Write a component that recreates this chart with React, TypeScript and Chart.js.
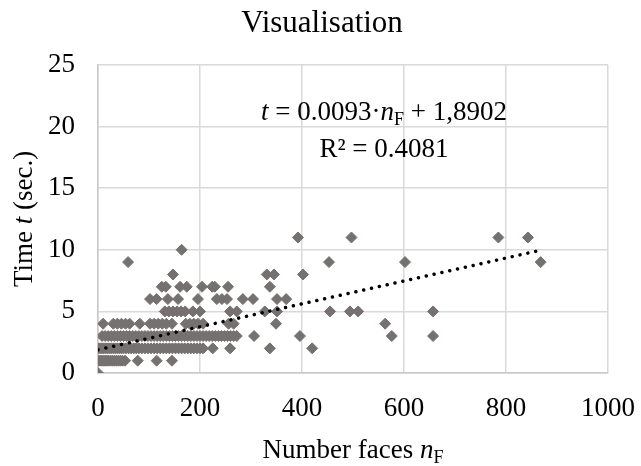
import React, { useEffect, useRef } from "react";
import { Chart, registerables } from "chart.js";

Chart.register(...registerables);

// ---- Data (number of faces n_F per measured time t in seconds) ----
const TITLE = "Visualisation";
const X_MIN = 0;
const X_MAX = 1000;
const X_STEP = 200;
const Y_MIN = 0;
const Y_MAX = 25;
const Y_STEP = 5;

const facesAt0s = [0];
const facesAt1s = [2, 5, 8, 11, 14, 17, 20, 24, 28, 32, 36, 40, 44, 48, 53, 78, 115, 145];
const facesAt2s = [
  2, 6, 10, 14, 18, 22, 26, 30, 34, 38, 42, 46, 50, 55, 60, 65, 70, 75, 80, 86,
  92, 98, 104, 110, 116, 122, 128, 134, 140, 146, 152, 158, 164, 170, 176, 182, 188, 194, 200,
  206, 225, 259, 337, 420,
];
const facesAt3s = [
  8, 14, 20, 26, 32, 38, 44, 50, 56, 62, 68, 74, 80, 86, 92, 98, 104, 110, 116, 122, 128,
  134, 140, 146, 152, 158, 164, 170, 176, 182, 188, 194, 200, 206, 212, 218, 224, 230, 236,
  242, 248, 254, 260, 266, 272, 306, 396, 576, 657,
];
const facesAt4s = [10, 30, 38, 46, 54, 62, 82, 102, 110, 118, 126, 134, 145, 172, 180, 188, 196, 206, 256, 266, 349, 563];
const facesAt5s = [131, 139, 147, 155, 163, 171, 186, 200, 259, 272, 327, 351, 455, 494, 510, 657];
const facesAt6s = [102, 115, 137, 157, 196, 233, 243, 253, 284, 304, 351, 369];
const facesAt7s = [125, 133, 161, 174, 204, 224, 229, 255, 337];
const facesAt8s = [147, 331, 345, 402];
const facesAt9s = [59, 453, 602, 868];
const facesAt10s = [164];
const facesAt11s = [392, 497, 785, 843];

const facesByTime: number[][] = [
  facesAt0s, facesAt1s, facesAt2s, facesAt3s, facesAt4s, facesAt5s,
  facesAt6s, facesAt7s, facesAt8s, facesAt9s, facesAt10s, facesAt11s,
];

// Linear trend line shown in the chart
const TREND_SLOPE = 0.0093;
const TREND_INTERCEPT = 1.8902;
const TREND_R2 = "0.4081";

const FONT = "'Liberation Serif', 'Times New Roman', serif";
const POINT_COLOR = "#767171";
const GRID_COLOR = "#d9d9d9";

type Seg = { text: string; italic?: boolean; sub?: boolean };

function segFont(size: number, s: Seg) {
  const sz = s.sub ? Math.round(size * 0.68) : size;
  return `${s.italic ? "italic " : ""}${sz}px ${FONT}`;
}

function measureSegs(ctx: CanvasRenderingContext2D, segs: Seg[], size: number) {
  let w = 0;
  for (const s of segs) {
    ctx.font = segFont(size, s);
    w += ctx.measureText(s.text).width;
  }
  return w;
}

function drawSegs(ctx: CanvasRenderingContext2D, segs: Seg[], size: number, cx: number, baseline: number) {
  const total = measureSegs(ctx, segs, size);
  let x = cx - total / 2;
  ctx.textAlign = "left";
  ctx.textBaseline = "alphabetic";
  for (const s of segs) {
    ctx.font = segFont(size, s);
    ctx.fillText(s.text, x, baseline + (s.sub ? size * 0.19 : 0));
    x += ctx.measureText(s.text).width;
  }
}

const textPlugin = {
  id: "richText",
  afterDraw(chart: any) {
    const ctx: CanvasRenderingContext2D = chart.ctx;
    const area = chart.chartArea;
    ctx.save();
    ctx.fillStyle = "#000000";
    // Title
    drawSegs(ctx, [{ text: TITLE }], 31, 322, 32);
    // X axis title
    drawSegs(
      ctx,
      [{ text: "Number faces " }, { text: "n", italic: true }, { text: "F", sub: true }],
      27,
      (area.left + area.right) / 2,
      458
    );
    // Y axis title (rotated)
    ctx.save();
    ctx.translate(32, (area.top + area.bottom) / 2);
    ctx.rotate(-Math.PI / 2);
    drawSegs(ctx, [{ text: "Time " }, { text: "t", italic: true }, { text: " (sec.)" }], 27, 0, 0);
    ctx.restore();
    // Trend line equation
    drawSegs(
      ctx,
      [
        { text: "t", italic: true },
        { text: " = " + TREND_SLOPE.toString() + "·" },
        { text: "n", italic: true },
        { text: "F", sub: true },
        { text: " + " + TREND_INTERCEPT.toString().replace(".", ",") },
      ],
      27,
      384,
      120
    );
    drawSegs(ctx, [{ text: "R² = " + TREND_R2 }], 27, 384, 157);
    ctx.restore();
  },
};

export default function App() {
  const canvasRef = useRef<HTMLCanvasElement | null>(null);

  useEffect(() => {
    const canvas = canvasRef.current;
    if (!canvas) return;

    const points: { x: number; y: number }[] = [];
    facesByTime.forEach((list, t) => list.forEach((n) => points.push({ x: n, y: t })));
    const allX = points.map((p) => p.x);
    const xLo = Math.min(...allX);
    const xHi = Math.max(...allX);
    const trend = [
      { x: xLo, y: TREND_SLOPE * xLo + TREND_INTERCEPT },
      { x: xHi, y: TREND_SLOPE * xHi + TREND_INTERCEPT },
    ];

    const chart = new Chart(canvas, {
      type: "scatter",
      data: {
        datasets: [
          {
            type: "line",
            data: trend,
            borderColor: "#000000",
            borderWidth: 3.5,
            borderDash: [0.01, 8],
            borderCapStyle: "round",
            pointRadius: 0,
            fill: false,
            order: 0,
          } as any,
          {
            data: points,
            pointStyle: "rectRot",
            pointRadius: 5.5,
            pointBackgroundColor: POINT_COLOR,
            pointBorderColor: POINT_COLOR,
            pointBorderWidth: 1,
            order: 1,
          },
        ],
      },
      options: {
        animation: false,
        responsive: false,
        devicePixelRatio: 1,
        layout: { padding: { top: 65, left: 0, right: 33, bottom: 0 } },
        plugins: {
          legend: { display: false },
          tooltip: { enabled: false },
          title: { display: false },
        },
        scales: {
          x: {
            type: "linear",
            min: X_MIN,
            max: X_MAX,
            ticks: {
              stepSize: X_STEP,
              color: "#000000",
              font: { family: FONT, size: 27 },
              padding: 20,
              maxRotation: 0,
              callback: (v: any) => String(v),
            },
            grid: { color: GRID_COLOR, lineWidth: 1.5, drawTicks: false },
            border: { color: "#c8c8c8", width: 1.5 },
            afterFit: (scale: any) => {
              scale.height = 93;
              scale.paddingLeft = 0;
              scale.paddingRight = 0;
            },
          },
          y: {
            type: "linear",
            min: Y_MIN,
            max: Y_MAX,
            ticks: {
              stepSize: Y_STEP,
              color: "#000000",
              font: { family: FONT, size: 27 },
              padding: 23,
              callback: (v: any) => String(v),
            },
            grid: { color: GRID_COLOR, lineWidth: 1.5, drawTicks: false },
            border: { color: "#c8c8c8", width: 1.5 },
            afterFit: (scale: any) => {
              scale.width = 98;
              scale.paddingTop = 0;
              scale.paddingBottom = 0;
            },
          },
        },
      },
      plugins: [textPlugin],
    });

    return () => chart.destroy();
  }, []);

  return (
    <div style={{ position: "fixed", left: 0, top: 0, width: 641, height: 466, background: "#ffffff" }}>
      <canvas ref={canvasRef} width={641} height={466} style={{ display: "block" }} />
    </div>
  );
}
